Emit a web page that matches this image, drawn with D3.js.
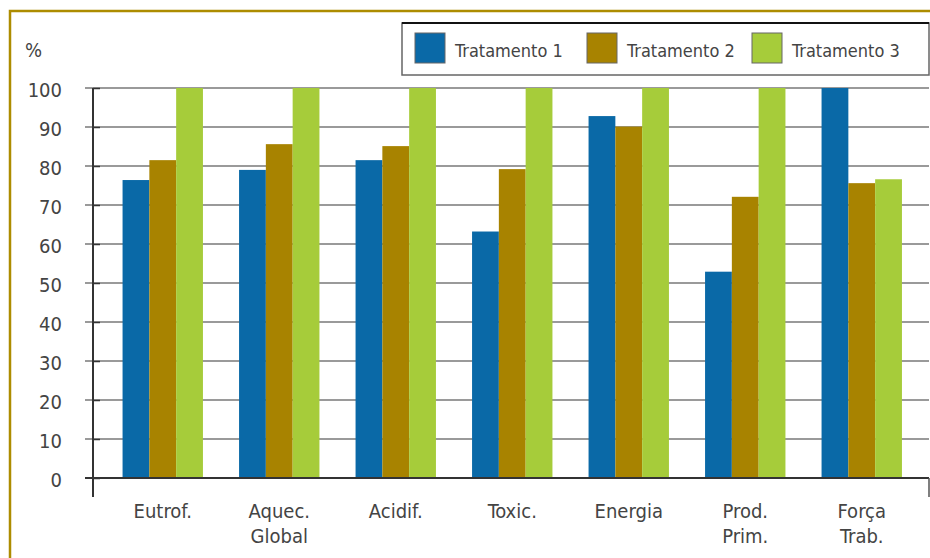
<!DOCTYPE html>
<html>
<head>
<meta charset="utf-8">
<script src="https://cdn.jsdelivr.net/npm/d3@7"></script>
<style>
  body { margin: 0; background: #fff; }
  text { font-family: "DejaVu Sans Condensed", "DejaVu Sans", sans-serif; fill: #444; }
</style>
</head>
<body>
<script>
// data
var categories = [["Eutrof."], ["Aquec.", "Global"], ["Acidif."], ["Toxic."], ["Energia"], ["Prod.", "Prim."], ["Força", "Trab."]];
var seriesNames = ["Tratamento 1", "Tratamento 2", "Tratamento 3"];
var trat1 = [76.4, 79.0, 81.5, 63.2, 92.8, 52.9, 100];
var trat2 = [81.5, 85.6, 85.1, 79.2, 90.1, 72.1, 75.6];
var trat3 = [100, 100, 100, 100, 100, 100, 76.6];
var yTicks = [0, 10, 20, 30, 40, 50, 60, 70, 80, 90, 100];
var colors = ["#0a69a7", "#a88300", "#a6cc3a"];

var W = 930, H = 558;
var svg = d3.select("body").append("svg")
    .attr("width", W)
    .attr("height", H);

// frame
svg.append("path")
    .attr("d", "M10,560 L10,11 L932,11")
    .attr("fill", "none")
    .attr("stroke", "#ad8c00")
    .attr("stroke-width", 2.5);

var x0 = d3.scaleBand()
    .domain(d3.range(categories.length))
    .range([104.5, 920])
    .paddingInner(0.31)
    .paddingOuter(0.155);

var x1 = d3.scaleBand()
    .domain(d3.range(seriesNames.length))
    .range([0, x0.bandwidth()]);

var y = d3.scaleLinear()
    .domain([0, 100])
    .range([478, 88]);

// gridlines
svg.append("g")
    .selectAll("line")
    .data(yTicks.filter(d => d > 0))
    .enter().append("line")
    .attr("x1", 85)
    .attr("x2", 929)
    .attr("y1", d => y(d))
    .attr("y2", d => y(d))
    .attr("stroke", "#9a9a9a")
    .attr("stroke-width", 2);

// bars
var series = [trat1, trat2, trat3];
var groups = svg.append("g")
    .selectAll("g")
    .data(series)
    .enter().append("g")
    .attr("fill", (d, i) => colors[i]);

groups.each(function(vals, s) {
    d3.select(this).selectAll("rect")
        .data(vals)
        .enter().append("rect")
        .attr("x", (d, i) => x0(i) + x1(s))
        .attr("y", d => y(d))
        .attr("width", x1.bandwidth())
        .attr("height", d => y(0) - y(d));
});

// y axis
var yAxis = svg.append("g")
    .attr("transform", "translate(93,0)")
    .call(d3.axisLeft(y).tickValues(yTicks).tickSize(8).tickPadding(23));
yAxis.select(".domain").remove();
yAxis.selectAll(".tick line").attr("stroke", "#333").attr("stroke-width", 1.5).attr("x2", 7);
yAxis.selectAll(".tick text")
    .style("font-size", "20px")
    .style("font-family", "\"DejaVu Sans Condensed\", sans-serif")
    .attr("fill", "#444")
    .attr("dy", "0.4em");

svg.append("line")
    .attr("x1", 93).attr("x2", 93)
    .attr("y1", y(100)).attr("y2", 497)
    .attr("stroke", "#333").attr("stroke-width", 2);

// x axis line
svg.append("line")
    .attr("x1", 85).attr("x2", 929)
    .attr("y1", y(0)).attr("y2", y(0))
    .attr("stroke", "#333").attr("stroke-width", 2);
svg.append("line")
    .attr("x1", 929).attr("x2", 929)
    .attr("y1", y(0)).attr("y2", 497)
    .attr("stroke", "#555").attr("stroke-width", 1.5);

// x labels
var xl = svg.append("g")
    .selectAll("text")
    .data(categories)
    .enter().append("text")
    .attr("x", (d, i) => x0(i) + x0.bandwidth() / 2)
    .attr("y", 518)
    .attr("text-anchor", "middle")
    .style("font-size", "20px");
xl.each(function(lines) {
    var t = d3.select(this);
    lines.forEach(function(l, k) {
        t.append("tspan")
            .attr("x", t.attr("x"))
            .attr("dy", k == 0 ? 0 : 25)
            .text(l);
    });
});

// % label
svg.append("text")
    .attr("x", 25)
    .attr("y", 57)
    .style("font-size", "20px")
    .text("%");

// legend
svg.append("rect")
    .attr("x", 402).attr("y", 23)
    .attr("width", 527).attr("height", 52)
    .attr("fill", "#fff")
    .attr("stroke", "#666")
    .attr("stroke-width", 1.5);
svg.append("line")
    .attr("x1", 402).attr("x2", 929)
    .attr("y1", 23).attr("y2", 23)
    .attr("stroke", "#111").attr("stroke-width", 2);

var legendX = [415, 587, 752];
var leg = svg.append("g")
    .selectAll("g")
    .data(seriesNames)
    .enter().append("g")
    .attr("transform", (d, i) => "translate(" + legendX[i] + ",33)");
leg.append("rect")
    .attr("width", 30).attr("height", 30)
    .attr("fill", (d, i) => colors[i])
    .attr("stroke", "#666").attr("stroke-width", 1);
leg.append("text")
    .attr("x", 40)
    .attr("y", 24)
    .style("font-size", "18px")
    .text(d => d);
</script>
</body>
</html>
